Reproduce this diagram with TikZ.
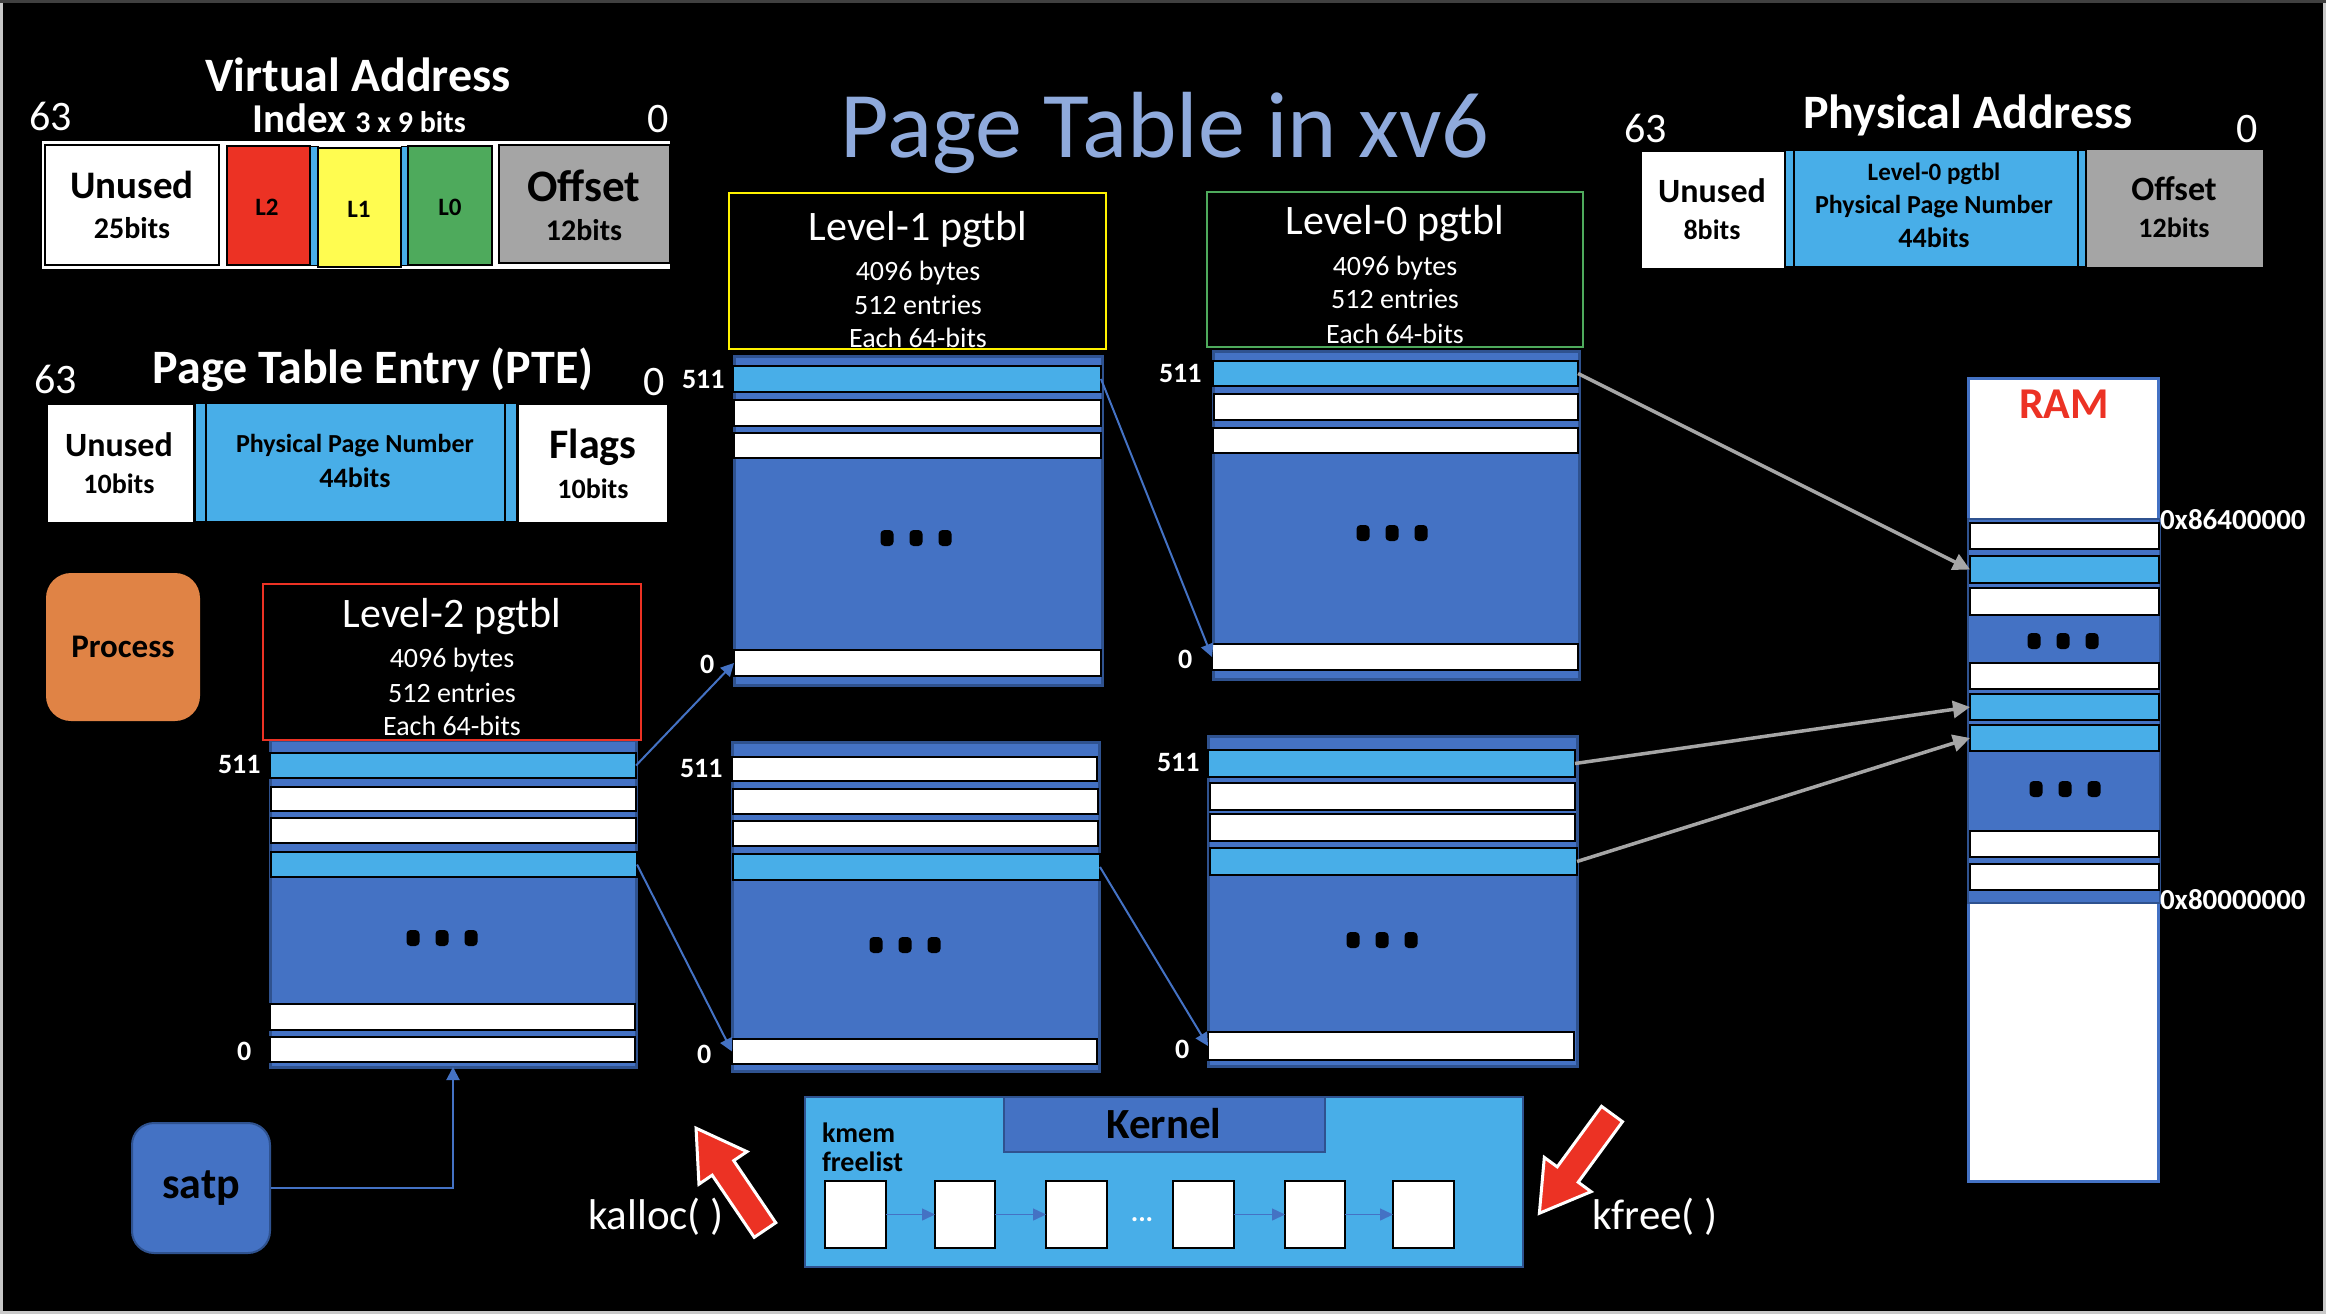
\documentclass[tikz,border=0pt]{standalone}
\usepackage{fontspec}
\setmainfont{Carlito}
\usetikzlibrary{arrows.meta}
\definecolor{accblue}{RGB}{68,114,196}
\definecolor{darkblue}{RGB}{47,82,143}
\definecolor{lblue}{RGB}{72,174,232}
\definecolor{vred}{RGB}{236,50,36}
\definecolor{vyellow}{RGB}{255,252,80}
\definecolor{vgreen}{RGB}{78,170,92}
\definecolor{vgray}{RGB}{165,165,165}
\definecolor{orng}{RGB}{224,131,69}
\definecolor{titleblue}{RGB}{143,170,220}
\definecolor{arrgray}{RGB}{166,166,166}
\definecolor{framegray}{RGB}{200,200,200}
\newcommand\fs[1]{\fontsize{#1}{#1}\selectfont}
\newcommand\rbox[6]{\node[#2, anchor=north west, inner sep=0pt, outer sep=0pt, minimum width={(#5)-(#3)}, minimum height={(#6)-(#4)}] (#1) at (#3,#4) {};}
\newcommand\tridots[2]{\foreach \dx in {-29,0,29}{\fill[black, rounded corners=4pt] ({#1+\dx-6.5},{#2-8}) rectangle ({#1+\dx+6.5},{#2+8});}}
\newcommand\blockarrow[3]{\begin{scope}[shift={(#1,#2)}, rotate=#3]
  \draw[white, fill=vred, line width=3pt, line join=miter] (0,-13) -- (75,-13) -- (75,-29) -- (123,0) -- (75,29) -- (75,13) -- (0,13) -- cycle;
\end{scope}}
\tikzset{
  txt/.style={inner sep=0pt, outer sep=0pt, text=white},
  txtb/.style={inner sep=0pt, outer sep=0pt, text=black},
  tbl/.style={fill=accblue, draw=darkblue, line width=3pt},
  wrow/.style={fill=white, draw=black, line width=2pt},
  brow/.style={fill=lblue, draw=black, line width=2pt},
  conn/.style={draw=accblue, line width=2pt, -{Triangle[length=13pt,width=13pt]}},
  garr/.style={draw=arrgray, line width=3.5pt, -{Triangle[length=17pt,width=17pt]}},
  flarr/.style={draw=accblue, line width=1.5pt, -{Triangle[length=13pt,width=12pt]}},
}
\begin{document}
\begin{tikzpicture}[x=1pt,y=-1pt]
\useasboundingbox (0,0) rectangle (2326,1314);
\fill[black] (0,0) rectangle (2326,1314);
\draw[line width=3pt, framegray] (1.5,1.5) rectangle (2324.5,1312.5);
\draw[line width=3pt, black!75] (0,1.5) -- (2326,1.5);

% ---------- Title ----------
\node[txt, text=titleblue, font=\fs{94}, anchor=base] (title) at (1165,157) {Page Table in xv6};

% ---------- Virtual Address ----------
\node[txt, font=\bfseries\fs{48}, anchor=base] (vatitle) at (358,92) {Virtual Address};
\node[txt, font=\fs{42}, anchor=base west] (va63) at (29,130) {63};
\node[txt, font=\bfseries\fs{41}, anchor=base] (vaidx) at (359,132) {Index {\fs{30}3 x 9 bits}};
\node[txt, font=\fs{42}, anchor=base east] (va0) at (669,132) {0};
\rbox{vaframe}{fill=white}{42}{141}{670}{269}
\rbox{vaun}{wrow}{45}{145}{219}{265}
\rbox{val2}{fill=vred, draw=black, line width=2pt}{227}{146}{310}{265}
\rbox{vas1}{fill=lblue, draw=black, line width=1pt}{310}{146}{318}{265}
\rbox{val1}{fill=vyellow, draw=black, line width=2pt}{318}{148}{401}{267}
\rbox{vas2}{fill=lblue, draw=black, line width=1pt}{401}{146}{408}{265}
\rbox{val0}{fill=vgreen, draw=black, line width=2pt}{408}{146}{492}{265}
\rbox{vaoff}{fill=vgray, draw=black, line width=2pt}{499}{145}{670}{263}
\node[txtb, font=\bfseries\fs{39}, anchor=base] (vaunt) at (132,198) {Unused};
\node[txtb, font=\bfseries\fs{30}, anchor=base] (vaunb) at (132,238) {25bits};
\node[txtb, font=\bfseries\fs{25}, anchor=base] (val2t) at (267,215) {L2};
\node[txtb, font=\bfseries\fs{25}, anchor=base] (val1t) at (359,217) {L1};
\node[txtb, font=\bfseries\fs{25}, anchor=base] (val0t) at (450,215) {L0};
\node[txtb, font=\bfseries\fs{45}, anchor=base] (vaofft) at (584,201) {Offset};
\node[txtb, font=\bfseries\fs{30}, anchor=base] (vaoffb) at (584,240) {12bits};

% ---------- PTE ----------
\node[txt, font=\bfseries\fs{48}, anchor=base] (ptetitle) at (373,383) {Page Table Entry (PTE)};
\node[txt, font=\fs{42}, anchor=base west] (pte63) at (34,393) {63};
\node[txt, font=\fs{42}, anchor=base west] (pte0) at (643,395) {0};
\rbox{pteun}{fill=white}{48}{405}{193}{522}
\rbox{ptes1}{fill=lblue, draw=black, line width=1.5pt}{195}{403}{206}{522}
\rbox{pteppn}{fill=lblue, draw=black, line width=1.5pt}{206}{403}{505}{522}
\rbox{ptes2}{fill=lblue, draw=black, line width=1.5pt}{505}{403}{517}{522}
\rbox{ptefl}{fill=white}{519}{405}{667}{522}
\node[txtb, font=\bfseries\fs{34}, anchor=base] (pteunt) at (119,456) {Unused};
\node[txtb, font=\bfseries\fs{28}, anchor=base] (pteunb) at (119,493) {10bits};
\node[txtb, font=\bfseries\fs{26}, anchor=base] (pteppnt) at (355,452) {Physical Page Number};
\node[txtb, font=\bfseries\fs{28}, anchor=base] (pteppnb) at (355,487) {44bits};
\node[txtb, font=\bfseries\fs{42}, anchor=base] (ptefltt) at (593,458) {Flags};
\node[txtb, font=\bfseries\fs{28}, anchor=base] (ptefltb) at (593,498) {10bits};

% ---------- Physical Address ----------
\node[txt, font=\bfseries\fs{48}, anchor=base] (patitle) at (1968,128) {Physical Address};
\node[txt, font=\fs{42}, anchor=base west] (pa63) at (1624,142) {63};
\node[txt, font=\fs{42}, anchor=base west] (pa0) at (2236,142) {0};
\rbox{paun}{fill=white}{1642}{152}{1784}{268}
\rbox{pas1}{fill=lblue, draw=black, line width=1.5pt}{1785}{150}{1794}{267}
\rbox{pappn}{fill=lblue, draw=black, line width=1.5pt}{1794}{150}{2078}{267}
\rbox{pas2}{fill=lblue, draw=black, line width=1.5pt}{2078}{150}{2086}{267}
\rbox{paoff}{fill=vgray}{2087}{150}{2263}{267}
\node[txtb, font=\bfseries\fs{34}, anchor=base] (paunt) at (1712,202) {Unused};
\node[txtb, font=\bfseries\fs{28}, anchor=base] (paunb) at (1712,239) {8bits};
\node[txtb, font=\bfseries\fs{25}, anchor=base] (pappna) at (1934,180) {Level-0 pgtbl};
\node[txtb, font=\bfseries\fs{26}, anchor=base] (pappnt) at (1934,213) {Physical Page Number};
\node[txtb, font=\bfseries\fs{28}, anchor=base] (pappnb) at (1934,247) {44bits};
\node[txtb, font=\bfseries\fs{34}, anchor=base] (paofft) at (2174,200) {Offset};
\node[txtb, font=\bfseries\fs{28}, anchor=base] (paoffb) at (2174,237) {12bits};

% ---------- Process / satp ----------
\node[fill=orng, rounded corners=25pt, minimum width=154pt, minimum height=148pt, inner sep=0pt, text=black, font=\bfseries\fs{33}] (process) at (123,647) {Process};
\node[fill=accblue, draw=darkblue, line width=2pt, rounded corners=22pt, minimum width=138pt, minimum height=130pt, inner sep=0pt, text=black, font=\bfseries\fs{44}] (satp) at (201,1188) {satp};

% ---------- Level-2 table ----------
\rbox{l2tab}{tbl}{270}{740}{636}{1067}
\rbox{l2r511}{brow}{270}{753}{636}{778}
\rbox{l2r510}{wrow}{271}{787}{636}{811}
\rbox{l2r509}{wrow}{271}{818}{636}{843}
\rbox{l2rx}{brow}{271}{852}{637}{877}
\rbox{l2r1}{wrow}{270}{1004}{635}{1030}
\rbox{l2r0}{wrow}{270}{1037}{635}{1062}
\tridots{442}{938}
\rbox{l2head}{fill=black, draw=vred, line width=2.5pt}{263}{584}{641}{740}
\node[txt, font=\fs{42}, anchor=base] (l2h1) at (452,627) {Level-2 pgtbl};
\node[txt, font=\fs{28}, anchor=base] (l2h2) at (452,667) {4096 bytes};
\node[txt, font=\fs{28}, anchor=base] (l2h3) at (452,702) {512 entries};
\node[txt, font=\fs{28}, anchor=base] (l2h4) at (452,735) {Each 64-bits};
\node[txt, font=\bfseries\fs{28}, anchor=base west] (l2l511) at (218,773) {511};
\node[txt, font=\bfseries\fs{28}, anchor=base west] (l2l0) at (237,1060) {0};

% ---------- Level-1 upper ----------
\rbox{l1utab}{tbl}{734}{356}{1102}{685}
\rbox{l1u511}{brow}{733}{366}{1101}{392}
\rbox{l1u510}{wrow}{734}{400}{1101}{426}
\rbox{l1u509}{wrow}{734}{433}{1101}{458}
\rbox{l1u0}{wrow}{734}{650}{1101}{676}
\tridots{916}{538}
\rbox{l1head}{fill=black, draw=yellow, line width=2.5pt}{729}{193}{1106}{349}
\node[txt, font=\fs{42}, anchor=base] (l1h1) at (918,240) {Level-1 pgtbl};
\node[txt, font=\fs{28}, anchor=base] (l1h2) at (918,280) {4096 bytes};
\node[txt, font=\fs{28}, anchor=base] (l1h3) at (918,314) {512 entries};
\node[txt, font=\fs{28}, anchor=base] (l1h4) at (918,347) {Each 64-bits};
\node[txt, font=\bfseries\fs{28}, anchor=base west] (l1ul511) at (682,388) {511};
\node[txt, font=\bfseries\fs{28}, anchor=base west] (l1ul0) at (700,673) {0};

% ---------- Level-1 lower ----------
\rbox{l1ltab}{tbl}{732}{742}{1099}{1071}
\rbox{l1l511}{wrow}{732}{757}{1097}{781}
\rbox{l1l510}{wrow}{733}{789}{1098}{814}
\rbox{l1l509}{wrow}{733}{821}{1098}{846}
\rbox{l1lx}{brow}{733}{854}{1100}{880}
\rbox{l1l0}{wrow}{732}{1039}{1097}{1064}
\tridots{905}{945}
\node[txt, font=\bfseries\fs{28}, anchor=base west] (l1ll511) at (680,777) {511};
\node[txt, font=\bfseries\fs{28}, anchor=base west] (l1ll0) at (697,1063) {0};

% ---------- Level-0 upper ----------
\rbox{l0utab}{tbl}{1213}{351}{1579}{679}
\rbox{l0u511}{brow}{1213}{361}{1578}{386}
\rbox{l0u510}{wrow}{1214}{394}{1578}{420}
\rbox{l0u509}{wrow}{1213}{428}{1578}{453}
\rbox{l0u0}{wrow}{1212}{644}{1578}{670}
\tridots{1392}{533}
\rbox{l0head}{fill=black, draw=vgreen, line width=2.5pt}{1207}{192}{1583}{347}
\node[txt, font=\fs{42}, anchor=base] (l0h1) at (1395,234) {Level-0 pgtbl};
\node[txt, font=\fs{28}, anchor=base] (l0h2) at (1395,275) {4096 bytes};
\node[txt, font=\fs{28}, anchor=base] (l0h3) at (1395,308) {512 entries};
\node[txt, font=\fs{28}, anchor=base] (l0h4) at (1395,343) {Each 64-bits};
\node[txt, font=\bfseries\fs{28}, anchor=base west] (l0ul511) at (1159,382) {511};
\node[txt, font=\bfseries\fs{28}, anchor=base west] (l0ul0) at (1178,668) {0};

% ---------- Level-0 lower ----------
\rbox{l0ltab}{tbl}{1208}{736}{1577}{1066}
\rbox{l0l511}{brow}{1208}{750}{1575}{777}
\rbox{l0l510}{wrow}{1210}{783}{1575}{810}
\rbox{l0l509}{wrow}{1210}{814}{1575}{841}
\rbox{l0lx}{brow}{1210}{848}{1577}{875}
\rbox{l0l0}{wrow}{1208}{1032}{1574}{1060}
\tridots{1382}{940}
\node[txt, font=\bfseries\fs{28}, anchor=base west] (l0ll511) at (1157,771) {511};
\node[txt, font=\bfseries\fs{28}, anchor=base west] (l0ll0) at (1175,1058) {0};

% ---------- RAM ----------
\rbox{ram}{fill=white, draw=accblue, line width=3pt}{1968}{378}{2158}{1181}
\rbox{ramblk}{fill=accblue, draw=darkblue, line width=1.5pt}{1968}{519}{2160}{903}
\rbox{ramr1}{wrow}{1970}{523}{2159}{549}
\rbox{ramlb1}{brow}{1970}{556}{2159}{583}
\rbox{ramr3}{wrow}{1970}{588}{2159}{615}
\rbox{ramr4}{wrow}{1970}{663}{2159}{689}
\rbox{ramlb2}{brow}{1970}{694}{2159}{720}
\rbox{ramlb3}{brow}{1970}{725}{2159}{751}
\rbox{ramr5}{wrow}{1970}{831}{2159}{857}
\rbox{ramr6}{wrow}{1970}{864}{2159}{890}
\tridots{2063}{641}
\tridots{2065}{789}
\node[txt, text=vred, font=\bfseries\fs{44}, anchor=base] (ramt) at (2064,418) {RAM};
\node[txt, font=\bfseries\fs{29}, anchor=base west] (ramhi) at (2160,529) {0x86400000};
\node[txt, font=\bfseries\fs{29}, anchor=base west] (ramlo) at (2160,909) {0x80000000};

% ---------- Kernel ----------
\rbox{kernel}{fill=lblue, draw=darkblue, line width=2pt}{805}{1097}{1523}{1267}
\rbox{kernlab}{fill=accblue, draw=darkblue, line width=2pt}{1004}{1097}{1325}{1152}
\node[txtb, font=\bfseries\fs{43}, anchor=base] (kernt) at (1164,1138) {Kernel};
\node[txtb, font=\bfseries\fs{28}, anchor=base west] (kmem) at (822,1142) {kmem};
\node[txtb, font=\bfseries\fs{28}, anchor=base west] (freel) at (822,1171) {freelist};
\rbox{fb1}{wrow}{825}{1181}{886}{1248}
\rbox{fb2}{wrow}{935}{1181}{995}{1248}
\rbox{fb3}{wrow}{1046}{1181}{1107}{1248}
\rbox{fb4}{wrow}{1173}{1181}{1234}{1248}
\rbox{fb5}{wrow}{1285}{1181}{1345}{1248}
\rbox{fb6}{wrow}{1393}{1181}{1454}{1248}
\node[txt, font=\bfseries\fs{28}, anchor=base] (fbdots) at (1142,1221) {...};
\draw[flarr] (fb1.east) -- (fb2.west);
\draw[flarr] (fb2.east) -- (fb3.west);
\draw[flarr] (fb4.east) -- (fb5.west);
\draw[flarr] (fb5.east) -- (fb6.west);

% ---------- kalloc / kfree ----------
\blockarrow{765}{1230}{124.1}
\blockarrow{1612}{1114}{-126.2}
\node[txt, font=\fs{43}, anchor=base west] (kalloc) at (588,1229) {kalloc( )};
\node[txt, font=\fs{43}, anchor=base west] (kfree) at (1592,1229) {kfree( )};

% ---------- connectors ----------
\draw[conn] (satp.east) -| (l2tab.south);
\draw[conn] (l2r511.east) -- (l1u0.west);
\draw[conn] (l2rx.east) -- (l1l0.west);
\draw[conn] (l1u511.east) -- (l0u0.west);
\draw[conn] (l1lx.east) -- (l0l0.west);
\draw[garr] (l0u511.east) -- (ramlb1.west);
\draw[garr] (l0l511.east) -- (ramlb2.west);
\draw[garr] (l0lx.east) -- (ramlb3.west);
\end{tikzpicture}
\end{document}
